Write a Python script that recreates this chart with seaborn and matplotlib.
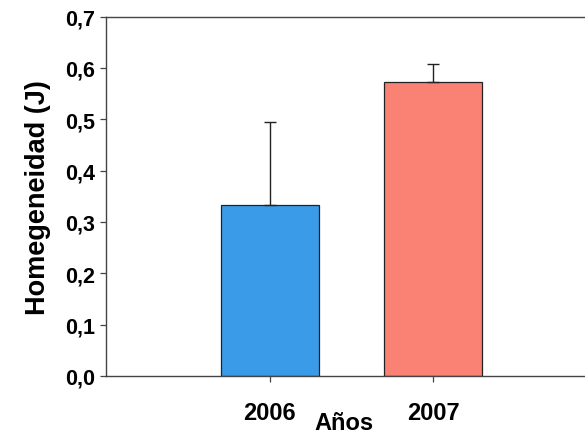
import matplotlib
matplotlib.use("Agg")
import matplotlib.pyplot as plt
import seaborn as sns
import pandas as pd

years = ["2006", "2007"]
values = [0.333, 0.572]
errors = [0.162, 0.036]
colors = ["#3A9CE8", "#F98275"]
yticks = [0.0, 0.1, 0.2, 0.3, 0.4, 0.5, 0.6, 0.7]
ytick_labels = ["0,0", "0,1", "0,2", "0,3", "0,4", "0,5", "0,6", "0,7"]

sns.set_style("ticks")
plt.rcParams["font.family"] = ["Liberation Sans", "DejaVu Sans"]
plt.rcParams["font.weight"] = "bold"
plt.rcParams["text.color"] = "black"
plt.rcParams["axes.labelcolor"] = "black"
plt.rcParams["xtick.labelcolor"] = "black"
plt.rcParams["ytick.labelcolor"] = "black"

df = pd.DataFrame({"year": years, "value": values})

fig = plt.figure(figsize=(5.85, 4.35), dpi=100)
ax = fig.add_axes([106/585, 58/435, 491/585, 359.5/435])

sns.barplot(data=df, x="year", y="value", hue="year", palette=colors,
            saturation=1, width=0.6, edgecolor="#222222", linewidth=0.9,
            legend=False, errorbar=None, ax=ax)
ax.errorbar([0, 1], values, yerr=[[0, 0], errors], fmt="none",
            ecolor="#222222", elinewidth=1.0, capsize=4, capthick=1.0)

ax.set_xlim(-1, 2)
ax.set_ylim(0, 0.7)
ax.set_yticks(yticks)
ax.set_yticklabels(ytick_labels, fontsize=15.5, fontweight="bold", color="black")
ax.set_xticks([0, 1])
ax.set_xticklabels(years, fontsize=17, fontweight="bold", color="black")
ax.tick_params(axis="x", length=4, width=0.9, pad=14, color="#444444")
ax.tick_params(axis="y", length=4, width=0.9, pad=4, color="#444444")
ax.set_xlabel("Años", fontsize=17, fontweight="bold", color="black")
ax.xaxis.set_label_coords(0.485, -0.098)
ax.set_ylabel("Homegeneidad (J)", fontsize=19.5, fontweight="bold",
              labelpad=10, color="black")

for s in ["left", "bottom", "top"]:
    ax.spines[s].set_visible(True)
    ax.spines[s].set_color("#444444")
    ax.spines[s].set_linewidth(1.0)
ax.spines["right"].set_visible(False)

fig.savefig("out.png", dpi=100)
